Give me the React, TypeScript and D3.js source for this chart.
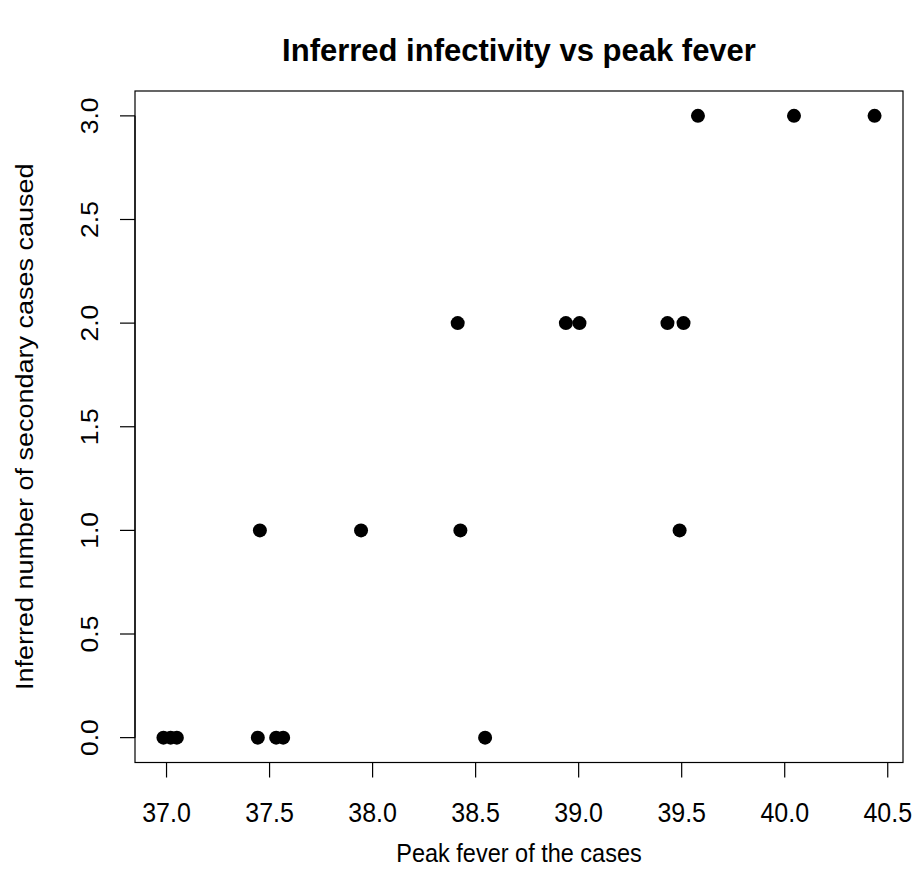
import React from "react";
import * as d3 from "d3";

const feverValues: number[] = [
  36.985, 37.02, 37.05, 37.443, 37.532, 37.566, 38.546,
  37.453, 37.944, 38.426, 39.49,
  38.413, 38.938, 39.004, 39.431, 39.509,
  39.579, 40.045, 40.436,
];
const secondaryCases: number[] = [
  0, 0, 0, 0, 0, 0, 0,
  1, 1, 1, 1,
  2, 2, 2, 2, 2,
  3, 3, 3,
];
const xTicks: number[] = [37.0, 37.5, 38.0, 38.5, 39.0, 39.5, 40.0, 40.5];
const yTicks: number[] = [0.0, 0.5, 1.0, 1.5, 2.0, 2.5, 3.0];

const titleText = "Inferred infectivity vs peak fever";
const xLabel = "Peak fever of the cases";
const yLabel = "Inferred number of secondary cases caused";

const W = 916;
const H = 888;
const left = 135;
const right = 903;
const top = 91;
const bottom = 762.5;
const font = "'Liberation Sans', Arial, Helvetica, sans-serif";

export default function App() {
  const xMin = d3.min(feverValues)!;
  const xMax = d3.max(feverValues)!;
  const xr = xMax - xMin;
  const yMin = d3.min(secondaryCases)!;
  const yMax = d3.max(secondaryCases)!;
  const yr = yMax - yMin;
  const x = d3.scaleLinear().domain([xMin - 0.04 * xr, xMax + 0.04 * xr]).range([left, right]);
  const y = d3.scaleLinear().domain([yMin - 0.04 * yr, yMax + 0.04 * yr]).range([bottom, top]);
  const tickLen = 15;
  const cx = (left + right) / 2;
  const cy = (top + bottom) / 2;

  return (
    <svg width={W} height={H} style={{ position: "absolute", left: 0, top: 0, background: "#fff" }} fontFamily={font}>
      <rect x={0} y={0} width={W} height={H} fill="#fff" />
      <text transform={`translate(${cx},61) scale(1,1.0)`} textAnchor="middle" fontSize={31} fontWeight="bold">{titleText}</text>
      <rect x={left} y={top} width={right - left} height={bottom - top} fill="none" stroke="#000" strokeWidth={1.2} />
      {/* x axis */}
      <line x1={x(xTicks[0])} x2={x(xTicks[xTicks.length - 1])} y1={bottom} y2={bottom} stroke="#000" strokeWidth={1.2} />
      {xTicks.map((t) => (
        <g key={"xt" + t}>
          <line x1={x(t)} x2={x(t)} y1={bottom} y2={bottom + tickLen} stroke="#000" strokeWidth={1.2} />
          <text transform={`translate(${x(t)},822) scale(1,1.08)`} textAnchor="middle" fontSize={25}>{t.toFixed(1)}</text>
        </g>
      ))}
      {/* y axis */}
      <line x1={left} x2={left} y1={y(yTicks[0])} y2={y(yTicks[yTicks.length - 1])} stroke="#000" strokeWidth={1.2} />
      {yTicks.map((t) => (
        <g key={"yt" + t}>
          <line x1={left - tickLen} x2={left} y1={y(t)} y2={y(t)} stroke="#000" strokeWidth={1.2} />
          <text transform={`translate(98,${y(t)}) rotate(-90) scale(1,0.93)`} textAnchor="middle" fontSize={26.5}>{t.toFixed(1)}</text>
        </g>
      ))}
      <text transform={`translate(${cx},862) scale(1,1.12)`} textAnchor="middle" fontSize={23.5}>{xLabel}</text>
      <text transform={`translate(33,${cy}) rotate(-90) scale(1,0.89)`} textAnchor="middle" fontSize={27}>{yLabel}</text>
      {feverValues.map((v, i) => (
        <circle key={"p" + i} cx={x(v)} cy={y(secondaryCases[i])} r={7} fill="#000" />
      ))}
    </svg>
  );
}
